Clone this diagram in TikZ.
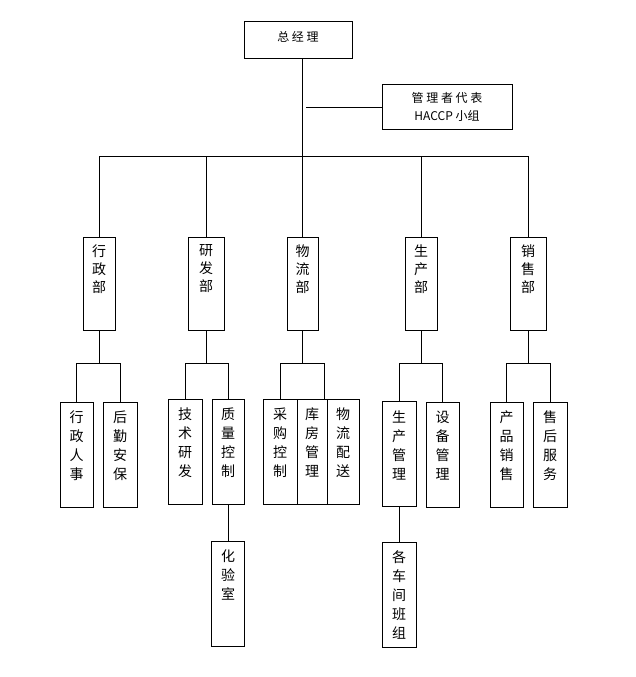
\documentclass[tikz,border=0pt]{standalone}
\usepackage{fontspec}
\newfontfamily\cjk{Noto Sans CJK SC}
\newfontfamily\cjkwide[LetterSpace=22]{Noto Sans CJK SC}
\tikzset{
  box/.style={draw, line width=1pt, inner sep=0pt, minimum width=33, minimum height=105},
  vtext/.style={anchor=north, inner sep=0pt, align=center, font=\cjk\fontsize{14}{19}\selectfont},
  dept/.style={box, minimum height=93, label={[vtext, font=\cjk\fontsize{14}{18}\selectfont, yshift=-8]north:#1}},
  unit/.style={box, label={[vtext, yshift=-9]north:#1}}
}
\begin{document}
\begin{tikzpicture}[x=1pt, y=-1pt, line width=1pt]
  \useasboundingbox (0,0) rectangle (635,677);
  % top
  \node[box, minimum width=108, minimum height=37,
        label={[font=\cjkwide\fontsize{12}{14}\selectfont, yshift=3.5]center:总经理}] (gm) at (298,40.5) {};
  \node[box, minimum width=130, minimum height=45, align=center,
        font=\cjk\fontsize{12}{18}\selectfont] (hc) at (447,106.5) {{\cjkwide 管理者代表}\\HACCP 小组};
  % departments
  \node[dept={行\\政\\部}, minimum width=32] (xz) at (99,283.5) {};
  \node[dept={研\\发\\部}, minimum width=36] (yf) at (206,283.5) {};
  \node[dept={物\\流\\部}, minimum width=31] (wl) at (302.5,283.5) {};
  \node[dept={生\\产\\部}, minimum width=32] (sc) at (421,283.5) {};
  \node[dept={销\\售\\部}, minimum width=36] (xs) at (528,283.5) {};
  % units
  \node[unit={行\\政\\人\\事}] (rs) at (76.5,454.5) {};
  \node[unit={后\\勤\\安\\保}, minimum width=34] (hq) at (120,454.5) {};
  \node[unit={技\\术\\研\\发}, minimum width=34] (js) at (185,451.5) {};
  \node[unit={质\\量\\控\\制}, minimum width=32] (zl) at (228,451.5) {};
  \node[unit={采\\购\\控\\制}, minimum width=34] (cg) at (280,451.5) {};
  \node[unit={库\\房\\管\\理}, minimum width=30] (kf) at (312,451.5) {};
  \node[unit={物\\流\\配\\送}, minimum width=32] (ps) at (343,451.5) {};
  \node[unit={生\\产\\管\\理}, minimum width=34] (scgl) at (399,454) {};
  \node[unit={设\\备\\管\\理}] (sb) at (442.5,454.5) {};
  \node[unit={产\\品\\销\\售}] (cp) at (506.5,454.5) {};
  \node[unit={售\\后\\服\\务}, minimum width=34] (sh) at (550,454.5) {};
  \node[unit={化\\验\\室}] (hy) at (228,593.5) {};
  \node[unit={各\\车\\间\\班\\组}, minimum width=34] (cj) at (399,594.5) {};
  % connectors
  \coordinate (bus) at (0,156);
  \coordinate (sub) at (0,363);
  \coordinate (hk) at (306,107);
  \draw (gm.south -| wl.north) -- (wl.north);
  \draw (hk) -- (hk -| hc.west);
  \draw (xz.north) |- (bus -| xs.north) -- (xs.north);
  \foreach \d in {yf,sc}
    \draw (\d.north) -- (\d.north |- bus);
  \foreach \p/\a/\b in {xz/rs/hq, yf/js/zl, sc/scgl/sb, xs/cp/sh}{
    \draw (\p.south) -- (\p.south |- sub);
    \draw (\a.north) |- (\b.north |- sub) -- (\b.north);
  }
  \draw (wl.south) -- (wl.south |- sub);
  \draw (cg.north) |- ([xshift=-3]kf.north east |- sub) -- ([xshift=-3]kf.north east);
  \draw (zl.south) -- (hy.north);
  \draw (scgl.south) -- (cj.north);
\end{tikzpicture}
\end{document}
